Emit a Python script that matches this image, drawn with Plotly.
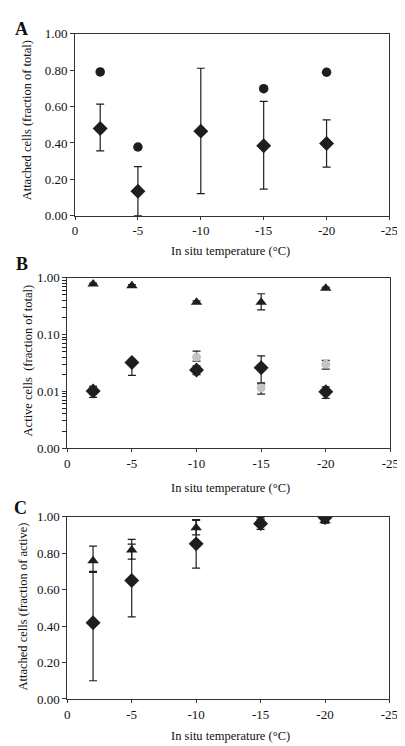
import plotly.graph_objects as go

temps = [-2, -5, -10, -15, -20]

# Panel A
a_circle_x = [-2, -5, -15, -20]
a_circle_y = [0.79, 0.378, 0.698, 0.788]
a_diam_y = [0.48, 0.135, 0.465, 0.385, 0.397]
a_diam_hi = [0.613, 0.27, 0.81, 0.628, 0.527]
a_diam_lo = [0.357, 0.0, 0.122, 0.147, 0.268]

# Panel B (log)
b_tri_y = [0.77, 0.72, 0.37, 0.37, 0.65]
b_tri_hi = [0.80, 0.75, 0.39, 0.52, 0.68]
b_tri_lo = [0.74, 0.69, 0.35, 0.27, 0.62]
b_grey_y = [0.010, 0.034, 0.040, 0.0115, 0.030]
b_grey_hi = [0.011, 0.036, 0.051, 0.0135, 0.035]
b_grey_lo = [0.009, 0.031, 0.034, 0.0089, 0.0245]
b_diam_y = [0.0101, 0.032, 0.0236, 0.026, 0.0098]
b_diam_hi = [0.0122, 0.035, 0.028, 0.042, 0.012]
b_diam_lo = [0.0078, 0.019, 0.0197, 0.014, 0.0075]

# Panel C
c_tri_y = [0.758, 0.817, 0.94, 0.98, 0.978]
c_tri_hi = [0.839, 0.876, 0.984, 0.995, 0.99]
c_tri_lo = [0.70, 0.767, 0.90, 0.965, 0.965]
c_diam_y = [0.418, 0.65, 0.851, 0.962, 0.995]
c_diam_hi = [0.695, 0.85, 0.98, 0.985, 1.0]
c_diam_lo = [0.10, 0.45, 0.718, 0.93, 0.99]

x_ticks = [0, -5, -10, -15, -20, -25]
x_ticktext = ["0", "-5", "-10", "-15", "-20", "-25"]
lin_ticks = [0, 0.2, 0.4, 0.6, 0.8, 1.0]
lin_ticktext = ["0.00", "0.20", "0.40", "0.60", "0.80", "1.00"]
log_ticks = [0.001, 0.01, 0.1, 1]
log_ticktext = ["0.00", "0.01", "0.10", "1.00"]

W, H = 405, 746
DARK = "#1e1e1e"
GREY = "#c4c4c4"
FONT = "Liberation Serif"


def err(y, hi, lo):
    return dict(type="data", symmetric=False,
                array=[h - v for h, v in zip(hi, y)],
                arrayminus=[v - l for v, l in zip(y, lo)],
                color=DARK, thickness=1.2, width=4)


fig = go.Figure()

# Panel A
fig.add_trace(go.Scatter(x=a_circle_x, y=a_circle_y, mode="markers",
                         marker=dict(symbol="circle", size=9.5, color=DARK),
                         xaxis="x", yaxis="y", showlegend=False))
fig.add_trace(go.Scatter(x=temps, y=a_diam_y, mode="markers",
                         marker=dict(symbol="diamond", size=11.5, color=DARK),
                         error_y=err(a_diam_y, a_diam_hi, a_diam_lo),
                         xaxis="x", yaxis="y", showlegend=False))

# Panel B
fig.add_trace(go.Scatter(x=temps, y=b_tri_y, mode="markers",
                         marker=dict(symbol="triangle-up", size=10, color=DARK),
                         error_y=err(b_tri_y, b_tri_hi, b_tri_lo),
                         xaxis="x2", yaxis="y2", showlegend=False))
fig.add_trace(go.Scatter(x=temps, y=b_grey_y, mode="markers",
                         marker=dict(symbol="circle", size=9, color=GREY),
                         error_y=err(b_grey_y, b_grey_hi, b_grey_lo),
                         xaxis="x2", yaxis="y2", showlegend=False))
fig.add_trace(go.Scatter(x=temps, y=b_diam_y, mode="markers",
                         marker=dict(symbol="diamond", size=11.5, color=DARK),
                         error_y=err(b_diam_y, b_diam_hi, b_diam_lo),
                         xaxis="x2", yaxis="y2", showlegend=False))

# Panel C
fig.add_trace(go.Scatter(x=temps, y=c_tri_y, mode="markers",
                         marker=dict(symbol="triangle-up", size=10, color=DARK),
                         error_y=err(c_tri_y, c_tri_hi, c_tri_lo),
                         xaxis="x3", yaxis="y3", showlegend=False))
fig.add_trace(go.Scatter(x=temps, y=c_diam_y, mode="markers",
                         marker=dict(symbol="diamond", size=11.5, color=DARK),
                         error_y=err(c_diam_y, c_diam_hi, c_diam_lo),
                         xaxis="x3", yaxis="y3", showlegend=False))

# domains from pixel positions
def xd(l, r):
    return [l / W, r / W]

def yd(t, b):
    return [1 - b / H, 1 - t / H]

panels = {
    "A": dict(x=xd(66, 390), y=yd(19, 205)),
    "B": dict(x=xd(58, 391), y=yd(268, 442)),
    "C": dict(x=xd(58, 390), y=yd(512, 698)),
}

tickfont = dict(family=FONT, size=13, color="#111")
xcommon = dict(range=[0, -25], tickvals=x_ticks, ticktext=x_ticktext,
               ticks="outside", ticklen=3, tickcolor="#333",
               showline=True, linecolor="#333", linewidth=1, mirror=True,
               showgrid=False, zeroline=False, tickfont=tickfont)
ycommon = dict(ticks="outside", ticklen=4, tickcolor="#333",
               showline=True, linecolor="#333", linewidth=1, mirror=True,
               showgrid=False, zeroline=False, tickfont=tickfont)

minor_vals = [m * 10 ** e for e in (-3, -2, -1) for m in range(2, 10)]

fig.update_layout(
    width=W, height=H, margin=dict(l=0, r=0, t=0, b=0),
    paper_bgcolor="white", plot_bgcolor="white",
    font=dict(family=FONT, color="#111"),
    xaxis=dict(domain=panels["A"]["x"], anchor="y", **xcommon),
    yaxis=dict(domain=panels["A"]["y"], anchor="x", range=[0, 1],
               tickvals=lin_ticks, ticktext=lin_ticktext, **ycommon),
    xaxis2=dict(domain=panels["B"]["x"], anchor="y2", **xcommon),
    yaxis2=dict(domain=panels["B"]["y"], anchor="x2", type="log", range=[-3, 0],
                tickvals=log_ticks, ticktext=log_ticktext,
                minor=dict(tickvals=minor_vals, ticks="outside", ticklen=4,
                           tickcolor="#222", tickwidth=1, showgrid=False),
                **ycommon),
    xaxis3=dict(domain=panels["C"]["x"], anchor="y3", **xcommon),
    yaxis3=dict(domain=panels["C"]["y"], anchor="x3", range=[0, 1],
                tickvals=lin_ticks, ticktext=lin_ticktext, **ycommon),
)

ann = []
titlefont = dict(family=FONT, size=12.5, color="#111")
# x titles
for yc in (241, 483, 736):
    ann.append(dict(text="In situ temperature (°C)", x=226 / W, y=1 - yc / H,
                    xref="paper", yref="paper", showarrow=False,
                    xanchor="center", yanchor="middle", font=titlefont))
# y titles
ytitles = [("Attached cells (fraction of total)", 16, 108),
           ("Active cells  (fraction of total)", 17, 352),
           ("Attached cells (fraction of active)", 12, 604)]
for t, xc, yc in ytitles:
    ann.append(dict(text=t, x=xc / W, y=1 - yc / H, xref="paper", yref="paper",
                    showarrow=False, textangle=-90, xanchor="center",
                    yanchor="middle", font=titlefont))
# panel letters
for t, xc, yc in [("A", 11, 14), ("B", 11, 254), ("C", 10, 503)]:
    ann.append(dict(text="<b>%s</b>" % t, x=xc / W, y=1 - yc / H,
                    xref="paper", yref="paper", showarrow=False,
                    xanchor="center", yanchor="middle",
                    font=dict(family=FONT, size=18, color="#111")))
fig.update_layout(annotations=ann)

fig.write_html("out.html")
